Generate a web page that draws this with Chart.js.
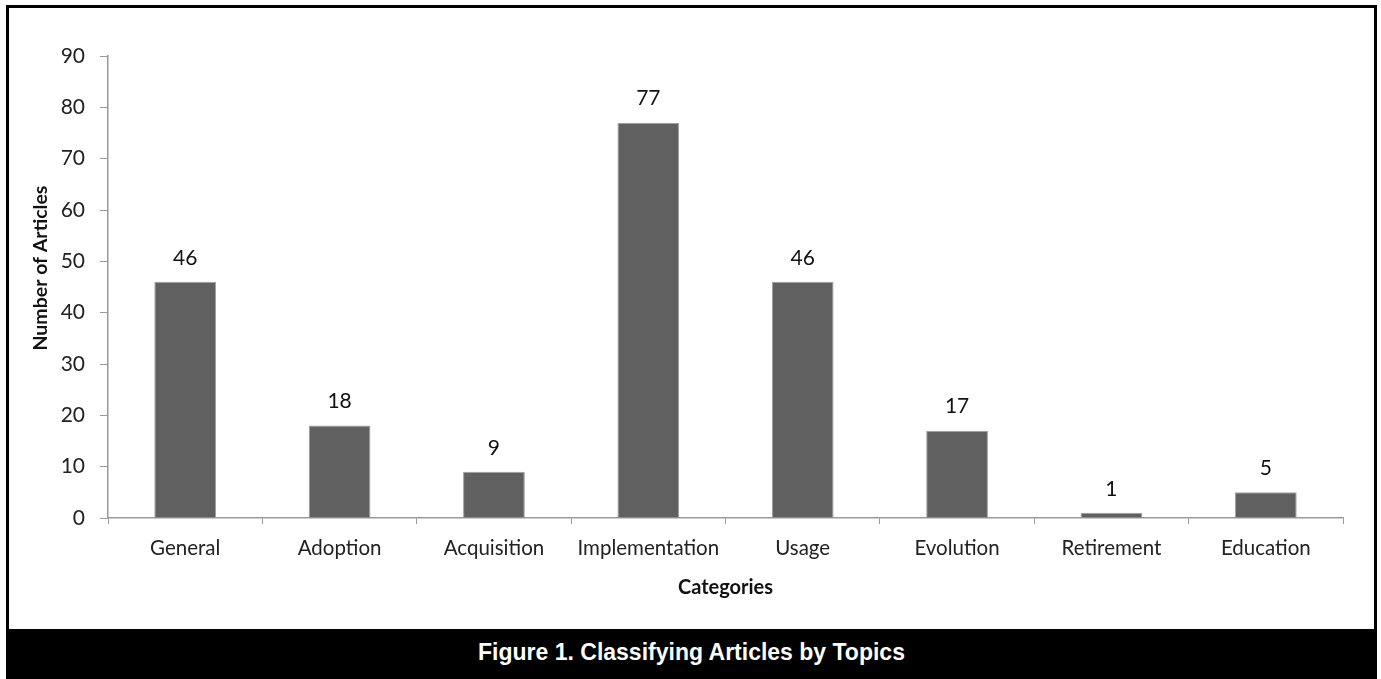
<!DOCTYPE html>
<html>
<head>
<meta charset="utf-8">
<script src="https://cdn.jsdelivr.net/npm/chart.js@4.4.0/dist/chart.umd.min.js"></script>
<style>
  body { margin: 0; background: #fff; }
  #frame {
    position: absolute; left: 6px; top: 5px;
    width: 1365px; height: 669px;
    border: 3px solid #000;
  }
  #chartBox { position: relative; width: 1365px; height: 621px; }
  #caption {
    height: 48px; background: #000; color: #fff;
    font: bold 23px "Liberation Sans", Arial, sans-serif;
    text-align: center; line-height: 46px;
  }
</style>
</head>
<body>
<div id="frame">
  <div id="chartBox"><canvas id="myChart"></canvas></div>
  <div id="caption">Figure 1. Classifying Articles by Topics</div>
</div>
<script>
// chart data
const categories = ['General', 'Adoption', 'Acquisition', 'Implementation', 'Usage', 'Evolution', 'Retirement', 'Education']
const articleCounts = [46, 18, 9, 77, 46, 17, 1, 5]
const yTicks = [0, 10, 20, 30, 40, 50, 60, 70, 80, 90]

const axisGray = '#999999'
const textFont = 'Lato, "Open Sans", sans-serif'

// draws the number above each bar
const barValues = {
  id: 'barValues',
  afterDatasetsDraw(chart) {
    const c = chart.ctx
    const meta = chart.getDatasetMeta(0)
    c.save()
    c.fillStyle = '#111'
    c.font = '21px ' + textFont
    c.textAlign = 'center'
    c.textBaseline = 'middle'
    meta.data.forEach((bar, i) => {
      c.fillText(chart.data.datasets[0].data[i], bar.x, bar.y - 24)
    })
    c.restore()
  }
}

const ctx = document.getElementById('myChart').getContext('2d')

const myChart = new Chart(ctx, {
  type: 'bar',
  data: {
    labels: categories,
    datasets: [{
      data: articleCounts,
      backgroundColor: '#606060',
      borderColor: '#a0a0a0',
      borderWidth: 1,
      categoryPercentage: 1,
      barPercentage: 0.4
    }]
  },
  options: {
    responsive: true,
    maintainAspectRatio: false,
    animation: false,
    layout: { padding: { top: 48, right: 31, bottom: 0, left: 0 } },
    plugins: {
      legend: { display: false },
      tooltip: { enabled: false }
    },
    scales: {
      x: {
        afterFit(scale) { scale.height = 111 },
        grid: { drawOnChartArea: false, color: axisGray, tickLength: 6 },
        border: { color: axisGray, width: 1.5 },
        ticks: { color: '#222', font: { size: 20.5, family: textFont }, padding: 12 },
        title: { display: true, text: 'Categories', color: '#111', font: { size: 20, weight: 'bold', family: textFont }, padding: { top: 0, bottom: 29 } }
      },
      y: {
        min: 0,
        max: 90,
        afterFit(scale) { scale.width = 99 },
        afterBuildTicks(scale) { scale.ticks = yTicks.map(v => ({ value: v })) },
        grid: { drawOnChartArea: false, color: axisGray, tickLength: 8 },
        border: { color: axisGray, width: 1.5 },
        ticks: { color: '#222', font: { size: 21, family: textFont }, padding: 15 },
        // leading spaces nudge the rotated title upward a little, as in the original
        title: { display: true, text: '        Number of Articles', color: '#111', font: { size: 19.5, weight: 'bold', family: textFont }, padding: { top: 20, bottom: 0 } }
      }
    }
  },
  plugins: [barValues]
})
</script>
</body>
</html>
